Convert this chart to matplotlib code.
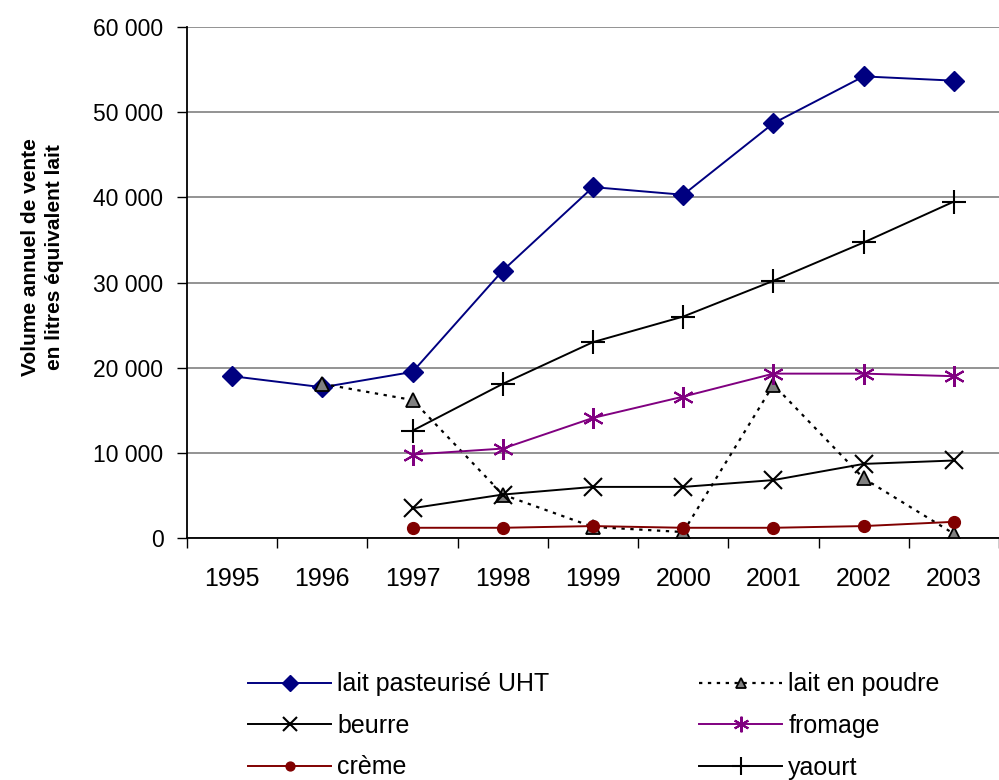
import matplotlib
matplotlib.use("Agg")
import matplotlib.pyplot as plt
from matplotlib.ticker import FuncFormatter, MultipleLocator
import numpy as np

plt.rcParams["font.family"] = ["Liberation Sans", "DejaVu Sans"]

annees = [1995, 1996, 1997, 1998, 1999, 2000, 2001, 2002, 2003]

# Volumes (litres équivalent lait); None = pas de donnée
lait_uht = [19000, 17700, 19500, 31400, 41200, 40300, 48700, 54200, 53700]
lait_poudre = [None, 18100, 16200, 5100, 1300, 700, 18000, 7000, 500]
beurre = [None, None, 3500, 5100, 6000, 6000, 6800, 8700, 9100]
fromage = [None, None, 9800, 10500, 14100, 16600, 19300, 19300, 19000]
creme = [None, None, 1200, 1200, 1400, 1200, 1200, 1400, 1900]
yaourt = [None, None, 12600, 18100, 23000, 26000, 30200, 34700, 39500]


def arr(v):
    return np.array([np.nan if x is None else x for x in v], dtype=float)


fig = plt.figure(figsize=(9.99, 7.8), dpi=100)
ax = fig.add_axes([187 / 999, 1 - 538 / 780, 1 - 187 / 999, (538 - 27) / 780])

x = np.array(annees)
h_uht, = ax.plot(x, arr(lait_uht), color="#000080", lw=1.4, marker="D", ms=10.5,
                 mfc="#000080", mec="#000080", label="lait pasteurisé UHT")
h_poudre, = ax.plot(x, arr(lait_poudre), color="black", lw=1.6, ls=(0, (1.5, 2.5)),
                    marker="^", ms=10, mfc="#808080", mec="black", mew=1.3,
                    label="lait en poudre")
h_beurre, = ax.plot(x, arr(beurre), color="black", lw=1.4, marker="x", ms=13,
                    mew=1.5, label="beurre")
h_fromage, = ax.plot(x, arr(fromage), color="#800080", lw=1.4, marker=(6, 2, 0),
                     ms=15, mew=1.5, mec="#800080", label="fromage")
h_creme, = ax.plot(x, arr(creme), color="#800000", lw=1.4, marker="o", ms=8.5,
                   mfc="#800000", mec="#800000", label="crème")
h_yaourt, = ax.plot(x, arr(yaourt), color="black", lw=1.4, marker="+", ms=17,
                    mew=1.5, label="yaourt")

ax.set_xlim(1994.5, 2003.5)
ax.set_ylim(0, 60000)
ax.yaxis.set_major_locator(MultipleLocator(10000))
ax.yaxis.set_major_formatter(FuncFormatter(lambda v, p: f"{int(v):,}".replace(",", " ")))
ax.grid(axis="y", color="#808080", lw=1.2)
ax.set_axisbelow(True)

# ticks at category boundaries, labels at centres
ax.set_xticks(np.arange(1994.5, 2003.6, 1.0))
ax.set_xticklabels([])
ax.set_xticks(x, minor=True)
ax.set_xticklabels([str(a) for a in annees], minor=True)
ax.tick_params(axis="x", which="major", length=7, width=1, direction="out")
ax.tick_params(axis="x", which="minor", length=0, pad=21, labelsize=18)
ax.tick_params(axis="y", length=7, width=1, direction="out", labelsize=16.5, pad=10)

for s in ["top", "right"]:
    ax.spines[s].set_visible(False)
for s in ["left", "bottom"]:
    ax.spines[s].set_linewidth(1.3)

ax.set_ylabel("Volume annuel de vente\nen litres équivalent lait", fontsize=15,
              fontweight="bold", linespacing=1.3)
ax.yaxis.set_label_coords((64 - 187) / 812, (538 - 257) / 511)

handles = [h_uht, h_beurre, h_creme, h_poudre, h_fromage, h_yaourt]
fig.legend(handles, [h.get_label() for h in handles], loc="center",
           bbox_to_anchor=(594 / 999, 1 - 726 / 780), ncol=2, frameon=False,
           fontsize=18, handlelength=3.3, handletextpad=0.25, columnspacing=6.0,
           labelspacing=0.7, markerscale=0.75)

fig.savefig("out.png", dpi=100)
